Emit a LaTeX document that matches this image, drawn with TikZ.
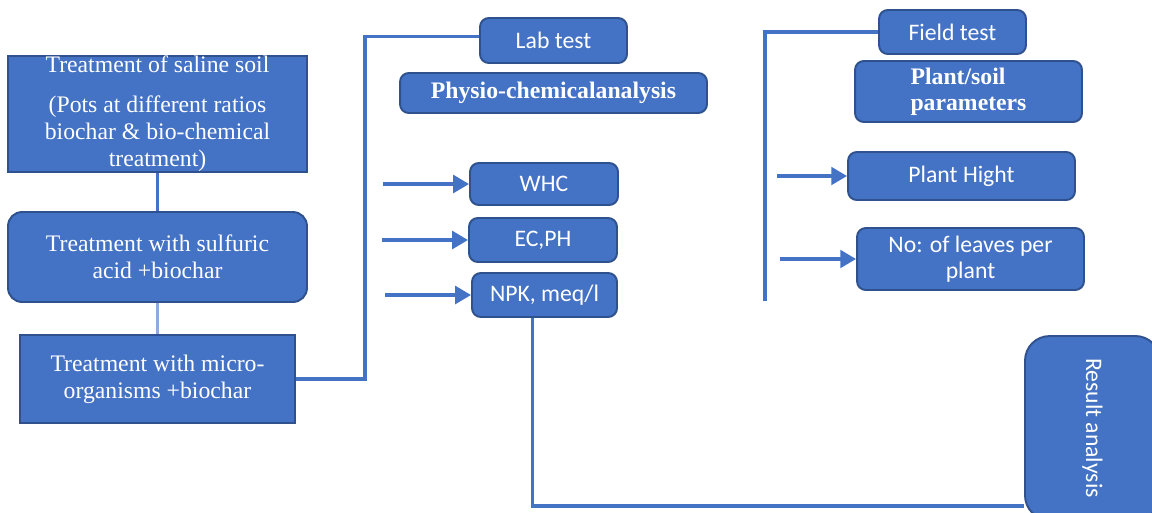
\documentclass[tikz,border=0pt]{standalone}
\usepackage{fontspec}
\setmainfont{Liberation Serif}
\newfontfamily\calibri{Carlito}
\usepackage{tikz}
\usetikzlibrary{arrows.meta, calc, positioning}
\definecolor{boxfill}{HTML}{4472C4}
\definecolor{boxedge}{HTML}{2F528F}
\definecolor{linkline}{HTML}{4472C4}
\definecolor{linklight}{HTML}{8FAADC}

\begin{document}
\begin{tikzpicture}[x=0.02cm, y=-0.02cm,
  serifbox/.style = {draw=boxedge, fill=boxfill, line width=1.1pt, text=white, align=center, inner sep=0pt, font=\fontsize{13.5}{15.5}\selectfont},
  sansbox/.style  = {draw=boxedge, fill=boxfill, line width=1.1pt, rounded corners=5pt, text=white, align=center, inner sep=0pt, font=\calibri\fontsize{13.5}{15}\selectfont},
  boldbox/.style  = {serifbox, rounded corners=5pt, font=\bfseries\fontsize{13.5}{15}\selectfont},
  link/.style     = {draw=linkline, line width=2pt},
  arr/.style      = {link, -{Triangle[length=9pt,width=10pt]}},
]
\useasboundingbox (0,0) rectangle (1152,512);
\clip (0,0) rectangle (1152,512);
\node[serifbox, minimum width=5.98cm, minimum height=2.24cm] (soil) at (157.5,114) {Treatment of saline soil\\[7pt](Pots at different ratios\\biochar \& bio-chemical\\treatment)};
\node[serifbox, rounded corners=8pt, minimum width=5.98cm, minimum height=1.8cm] (acid) at (157.5,257) {Treatment with sulfuric\\acid +biochar};
\node[serifbox, minimum width=5.5cm, minimum height=1.76cm] (micro) at (157.5,379) {Treatment with micro-\\organisms +biochar};
\node[sansbox, minimum width=2.94cm, minimum height=0.9cm] (lab) at (553.5,40.5) {Lab test};
\node[boldbox, minimum width=6.14cm, minimum height=0.8cm] (physio) at (553.5,93) {Physio-chemicalanalysis};
\node[sansbox, minimum width=2.96cm, minimum height=0.84cm] (whc) at (544,184) {WHC};
\node[sansbox, minimum width=2.96cm, minimum height=0.88cm] (ecph) at (543,240) {EC,PH};
\node[sansbox, minimum width=2.9cm, minimum height=0.88cm] (npk) at (544.5,295) {NPK, meq/l};
\node[sansbox, minimum width=2.94cm, minimum height=0.88cm] (field) at (952.5,32) {Field test};
\node[boldbox, align=left, minimum width=4.54cm, minimum height=1.22cm] (plantsoil) at (968.5,91.5) {Plant/soil\\parameters};
\node[sansbox, minimum width=4.54cm, minimum height=0.96cm] (hight) at (961.5,176) {Plant Hight};
\node[sansbox, minimum width=4.54cm, minimum height=1.24cm] (leaves) at (970.5,259) {No: of leaves per\\plant};
\node[sansbox, rounded corners=14pt, minimum width=2.7cm, minimum height=3.68cm] (result) at (1092.5,428) {};
\node[text=white, font=\calibri\fontsize{13.5}{15}\selectfont, rotate=-90] (resultlbl) at (result.center) {Result analysis};
\coordinate (whcin) at (383,184);
\coordinate (ecphin) at (382,240);
\coordinate (npkin) at (385,295);
\coordinate (hightin) at (777,176);
\coordinate (leavesin) at (780,259);
\coordinate (fieldend) at (765,301);
\draw[link] (soil.south) -- (acid.north);
\draw[link, draw=linklight, line width=1.6pt] (acid.south) -- (micro.north);
\draw[link] (micro.east) -- ++(69,0) |- ($(lab.west)+(0,-4)$);
\draw[arr] (whcin) -- (whc.west);
\draw[arr] (ecphin) -- (ecph.west);
\draw[arr] (npkin) -- (npk.west);
\draw[link] ($(npk.south)+(-12,0)$) |- ($(result.south west)+(0,-15)$);
\draw[link] (field.west) -| (fieldend);
\draw[arr] (hightin) -- (hight.west);
\draw[arr] (leavesin) -- (leaves.west);
\end{tikzpicture}
\end{document}
